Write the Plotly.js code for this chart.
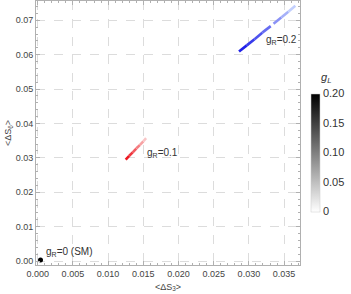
<!DOCTYPE html>
<html><head><meta charset="utf-8">
<script src="https://cdn.plot.ly/plotly-3.0.1.min.js"></script>
<style>html,body{margin:0;padding:0;background:#fff}#c{width:351px;height:294px}</style>
</head><body><div id="c"></div>
<script>
// SM point (gR = 0)
const smX = [0.0004];
const smY = [0.0003];
// gR = 0.1 curve (parametrised by gL)
const redX  = [0.0125, 0.0130, 0.0135, 0.0140, 0.0145, 0.0150, 0.0154];
const redY  = [0.0295, 0.0306, 0.0316, 0.0327, 0.0337, 0.0348, 0.0357];
const redGL = [0.20, 0.17, 0.14, 0.10, 0.07, 0.03, 0.00];
// gR = 0.2 curve (parametrised by gL), with a small gap
const blueX  = [0.0286, 0.0297, 0.0308, 0.0319, 0.0331, null, 0.0335, 0.0346, 0.0356, 0.0366];
const blueY  = [0.0609, 0.0627, 0.0645, 0.0664, 0.0683, null, 0.0690, 0.0708, 0.0725, 0.0742];
const blueGL = [0.20, 0.175, 0.15, 0.125, 0.10, null, 0.09, 0.06, 0.03, 0.00];
// labels
const labelText = ['g<sub>R</sub>=0 (SM)', 'g<sub>R</sub>=0.1', 'g<sub>R</sub>=0.2'];
const labelX = [0.0009, 0.01525, 0.0322];
const labelY = [0.0026, 0.0313, 0.0642];
// colorbar
const cbTitle = '<i>g<sub>L</sub></i>';
const cbTickVals = [0, 0.05, 0.10, 0.15, 0.20];
const cbTickText = ['0', '0.05', '0.10', '0.15', '0.20'];

function mix(dark, light, g) {
  const f = g / 0.2;
  const c = dark.map((d, i) => Math.round(light[i] + (d - light[i]) * f));
  return 'rgb(' + c.join(',') + ')';
}
function segs(xs, ys, gs, dark, light) {
  const out = [];
  for (let i = 0; i < xs.length - 1; i++) {
    if (xs[i] === null || xs[i + 1] === null) continue;
    out.push({
      type: 'scatter', mode: 'lines', x: [xs[i], xs[i + 1]], y: [ys[i], ys[i + 1]],
      line: {color: mix(dark, light, (gs[i] + gs[i + 1]) / 2), width: 2.6},
      showlegend: false, hoverinfo: 'skip'
    });
  }
  return out;
}
const traces = [];
traces.push(...segs(redX, redY, redGL, [236, 10, 20], [250, 212, 212]));
traces.push(...segs(blueX, blueY, blueGL, [20, 20, 230], [208, 222, 255]));
traces.push({type: 'scatter', mode: 'markers', x: smX, y: smY,
  marker: {color: '#000', size: 5}, showlegend: false, hoverinfo: 'skip'});
traces.push({type: 'scatter', mode: 'markers', x: [null], y: [null],
  marker: {color: [0, 0.2], cmin: 0, cmax: 0.2, size: 0,
    colorscale: [[0, '#ffffff'], [1, '#000000']], showscale: true,
    colorbar: {x: 1.0405, xanchor: 'left', xpad: 0, y: 0.426, yanchor: 'middle', ypad: 0,
      thickness: 9, len: 118, lenmode: 'pixels', outlinewidth: 0.5, outlinecolor: '#ccc',
      tickvals: cbTickVals, ticktext: cbTickText, ticks: '',
      tickfont: {family: 'Liberation Sans, Arial', size: 11, color: '#333'}}},
  showlegend: false, hoverinfo: 'skip'});

const ax = {
  showline: true, linecolor: '#b0b0b0', linewidth: 1, mirror: 'allticks',
  ticks: 'inside', ticklen: 4, tickcolor: '#b0b0b0', tickwidth: 1,
  showgrid: true, gridcolor: '#dcdcdc', griddash: 'dash', gridwidth: 1, zeroline: false,
  tickfont: {family: 'Liberation Sans, Arial', size: 9, color: '#444'}
};
const annots = labelText.map((t, i) => ({x: labelX[i], y: labelY[i], xref: 'x', yref: 'y',
  text: t, showarrow: false, xanchor: 'left', yanchor: 'middle',
  font: {family: 'Liberation Sans, Arial', size: 10, color: '#333'}}));
annots.push({x: 1.097, y: 0.708, xref: 'paper', yref: 'paper', text: cbTitle, showarrow: false,
  xanchor: 'center', yanchor: 'middle', font: {family: 'Liberation Sans, Arial', size: 11, color: '#333'}});
const layout = {
  width: 351, height: 294, margin: {l: 36, r: 51, t: 1, b: 29},
  paper_bgcolor: '#fff', plot_bgcolor: '#fff', showlegend: false,
  xaxis: Object.assign({}, ax, {range: [-0.00024, 0.03726], dtick: 0.005, tick0: 0, tickformat: '.3f',
    minor: {dtick: 0.001, ticks: 'inside', ticklen: 2, tickcolor: '#b0b0b0', showgrid: false},
    title: {text: '&lt;ΔS<sub>3</sub>&gt;', standoff: 5, font: {family: 'Liberation Sans, Arial', size: 9, color: '#444'}}}),
  yaxis: Object.assign({}, ax, {range: [-0.00116, 0.0756], dtick: 0.01, tick0: 0, tickformat: '.2f',
    minor: {dtick: 0.002, ticks: 'inside', ticklen: 2, tickcolor: '#b0b0b0', showgrid: false},
    title: {text: '&lt;ΔS<sub>6</sub>&gt;', standoff: 2, font: {family: 'Liberation Sans, Arial', size: 9, color: '#444'}}}),
  annotations: annots
};
Plotly.newPlot('c', traces, layout, {displayModeBar: false, staticPlot: true});
</script>
</body></html>
